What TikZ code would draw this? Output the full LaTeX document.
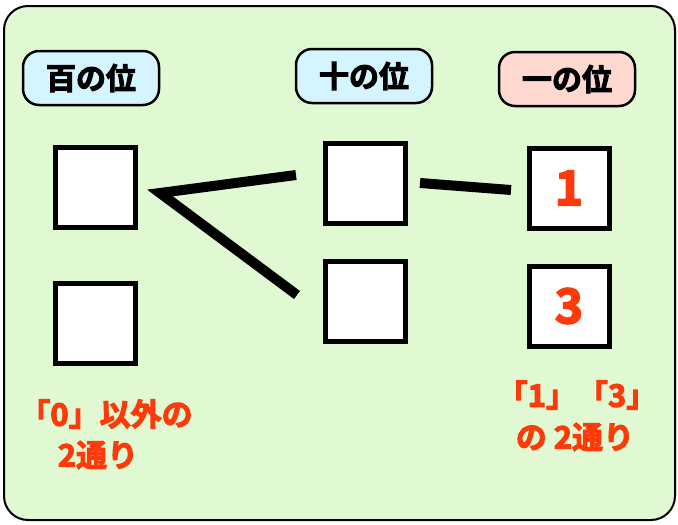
\documentclass[tikz,border=0pt]{standalone}
\usepackage{fontspec}
\newfontfamily\jp{Noto Sans CJK JP Bold}[FakeBold=3.5]
\definecolor{bgreen}{HTML}{E1F9D3}
\definecolor{pcyan}{HTML}{D4F5FF}
\definecolor{ppink}{HTML}{FFD9CF}
\definecolor{tred}{HTML}{FF3A0A}
\tikzset{
  pill/.style={draw=black, line width=2.5pt, rounded corners=16pt, minimum width=136pt, minimum height=54pt, font=\jp\fontsize{30}{30}\selectfont, inner sep=0pt},
  digitbox/.style={draw=black, line width=5pt, fill=white, minimum width=80pt, minimum height=80pt, inner sep=0pt, font=\jp\fontsize{48}{48}\selectfont, text=tred},
  link/.style={line width=10pt, black},
  redtxt/.style={font=\jp\fontsize{31}{41}\selectfont, text=tred, inner sep=0pt}
}
\begin{document}
\begin{tikzpicture}[x=1pt,y=-1pt]
\useasboundingbox (0,0) rectangle (678,525);
\draw[fill=bgreen, line width=2pt, rounded corners=24pt] (4,6) rectangle (675,520);
\node[pill, fill=pcyan] (h) at (91,78) {百の位};
\node[pill, fill=pcyan] (t) at (364,76) {十の位};
\node[pill, fill=ppink] (o) at (567,79) {一の位};
\node[digitbox] (h1) at (95,187) {};
\node[digitbox] (h2) at (95,323) {};
\node[digitbox] (t1) at (365,183) {};
\node[digitbox] (t2) at (365,301) {};
\node[digitbox] (o1) at (569,188) {1};
\node[digitbox] (o2) at (569,306) {3};
\coordinate (v) at (160,193);
\coordinate (a) at (296,175);
\coordinate (b) at (297,295);
\coordinate (c) at (420,183);
\coordinate (d) at (511,190);
\draw[link] (a) -- (v) -- (b);
\draw[link] (c) -- (d);
\node[redtxt] (r1a) at (106,414) {「0」以外の};
\node[redtxt] (r1b) at (98,455) {2通り};
\node[redtxt] (r2a) at (577,395) {「1」「3」};
\node[redtxt] (r2b) at (575,437) {の 2通り};
\end{tikzpicture}
\end{document}
